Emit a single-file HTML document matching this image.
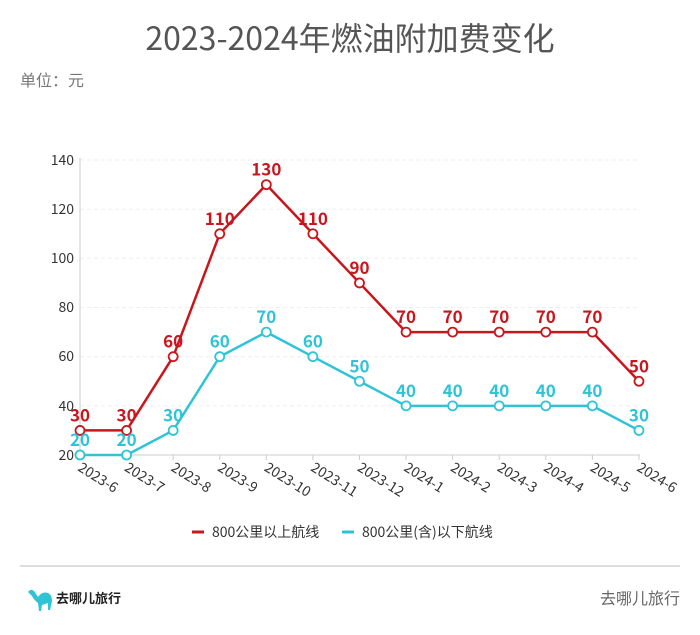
<!DOCTYPE html>
<html><head><meta charset="utf-8"><style>
body{margin:0;background:#fff;width:700px;height:630px;overflow:hidden;font-family:"Liberation Sans","Noto Sans CJK SC",sans-serif}
</style></head><body>
<svg width="700" height="630" xmlns="http://www.w3.org/2000/svg" font-family="Noto Sans CJK SC, sans-serif">
<text x="350" y="50" text-anchor="middle" font-size="32" fill="#555">2023-2024年燃油附加费变化</text>
<text x="20" y="86" font-size="16" fill="#777">单位：元</text>
<g stroke="#eee" stroke-dasharray="4,3" stroke-width="1">
<line x1="80" x2="640" y1="160" y2="160"/><line x1="80" x2="640" y1="209.2" y2="209.2"/><line x1="80" x2="640" y1="258.3" y2="258.3"/><line x1="80" x2="640" y1="307.5" y2="307.5"/><line x1="80" x2="640" y1="356.7" y2="356.7"/><line x1="80" x2="640" y1="405.8" y2="405.8"/>
</g>
<line x1="80" y1="158" x2="80" y2="455" stroke="#ccc"/>
<line x1="80" y1="455" x2="640" y2="455" stroke="#ccc"/>
<g font-size="14" fill="#333" text-anchor="end">
<text x="74" y="165">140</text><text x="74" y="214">120</text><text x="74" y="263">100</text><text x="74" y="312">80</text><text x="74" y="361">60</text><text x="74" y="411">40</text><text x="74" y="460">20</text>
</g>
<g id="xl" font-size="14" fill="#333"></g>
<g id="plot"></g>
<line x1="192" y1="532" x2="204" y2="532" stroke="#c8161d" stroke-width="3"/>
<text x="212" y="537" font-size="14" fill="#333">800公里以上航线</text>
<line x1="342" y1="532" x2="354" y2="532" stroke="#2ec4d6" stroke-width="3"/>
<text x="362" y="537" font-size="14" fill="#333">800公里(含)以下航线</text>
<line x1="20" y1="566" x2="680" y2="566" stroke="#ddd" stroke-width="2"/>
<path d="M28 592 q3 -4 6 -1 l4 6 q4 -6 10 -4 q4 2 4 8 l-2 9 l-2 0 l0 -7 l-6 2 l-1 6 l-2 0 l-1 -8 q-4 -3 -6 -7 z" fill="#2ec4d6"/>
<text x="56" y="603" font-size="13" font-weight="bold" fill="#222">去哪儿旅行</text>
<text x="680" y="604" font-size="16" text-anchor="end" fill="#666">去哪儿旅行</text>
</svg>
<script>
const ns="http://www.w3.org/2000/svg";
const labs=["2023-6","2023-7","2023-8","2023-9","2023-10","2023-11","2023-12","2024-1","2024-2","2024-3","2024-4","2024-5","2024-6"];
const r=[30,30,60,110,130,110,90,70,70,70,70,70,50], c=[20,20,30,60,70,60,50,40,40,40,40,40,30];
const X=i=>80+i*46.58, Y=v=>455-(v-20)*2.458;
const xl=document.getElementById("xl"), p=document.getElementById("plot");
labs.forEach((l,i)=>{const t=document.createElementNS(ns,"text");t.setAttribute("x",X(i)-3);t.setAttribute("y",470);t.setAttribute("transform",`rotate(32 ${X(i)-3} 470)`);t.textContent=l;xl.appendChild(t);
const tk=document.createElementNS(ns,"line");tk.setAttribute("x1",X(i));tk.setAttribute("x2",X(i));tk.setAttribute("y1",455);tk.setAttribute("y2",460);tk.setAttribute("stroke","#ccc");xl.appendChild(tk);});
function series(d,col){const pl=document.createElementNS(ns,"polyline");pl.setAttribute("points",d.map((v,i)=>X(i)+","+Y(v)).join(" "));pl.setAttribute("fill","none");pl.setAttribute("stroke",col);pl.setAttribute("stroke-width","2.5");p.appendChild(pl);
d.forEach((v,i)=>{const ci=document.createElementNS(ns,"circle");ci.setAttribute("cx",X(i));ci.setAttribute("cy",Y(v));ci.setAttribute("r",4.5);ci.setAttribute("fill","#fff");ci.setAttribute("stroke",col);ci.setAttribute("stroke-width","1.8");p.appendChild(ci);
const t=document.createElementNS(ns,"text");t.setAttribute("x",X(i));t.setAttribute("y",Y(v)-9);t.setAttribute("text-anchor","middle");t.setAttribute("font-size","17");t.setAttribute("font-weight","bold");t.setAttribute("fill",col);t.textContent=v;p.appendChild(t);});}
series(r,"#c8161d");series(c,"#2ec4d6");
</script>
</body></html>
